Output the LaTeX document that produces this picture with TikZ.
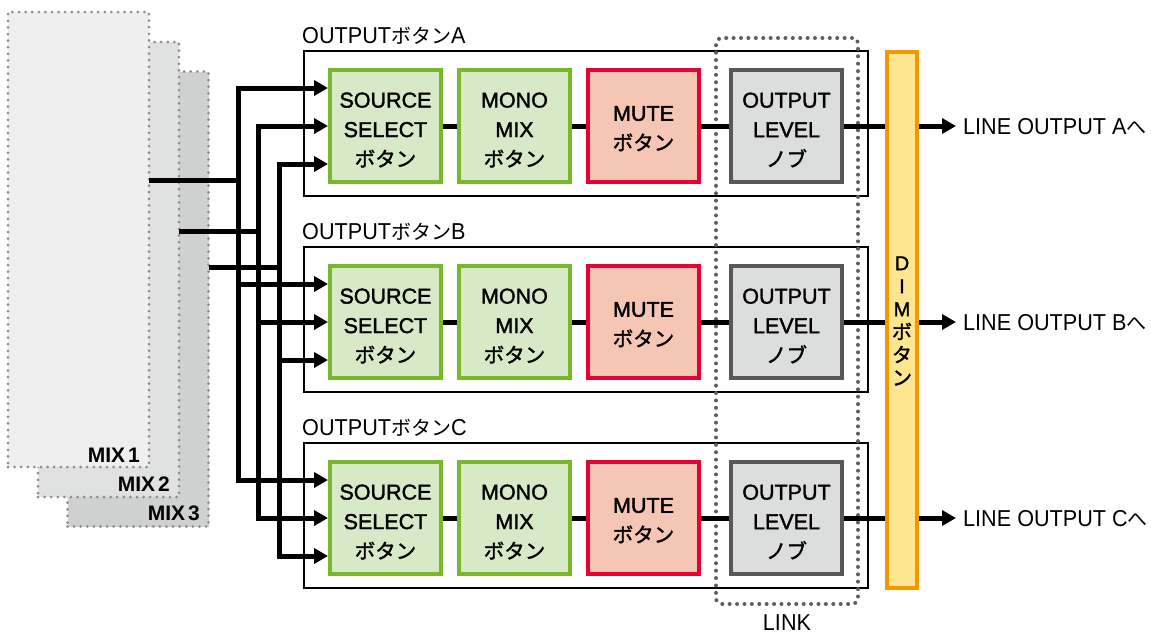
\documentclass[tikz,border=0pt]{standalone}
\usepackage{fontspec}
\setmainfont{Liberation Sans}
\newfontfamily\boxfont[FakeBold=1.6]{Liberation Sans}
\newfontfamily\lblfont[FakeStretch=0.94]{Liberation Sans}
\newfontfamily\jp{Noto Sans CJK JP}
\newfontfamily\jpb[FakeBold=1.6]{Noto Sans CJK JP}
\usetikzlibrary{arrows.meta,calc}
\definecolor{grnB}{RGB}{120,184,42}
\definecolor{grnF}{RGB}{216,233,199}
\definecolor{redB}{RGB}{230,0,51}
\definecolor{redF}{RGB}{246,198,180}
\definecolor{gryB}{RGB}{89,87,87}
\definecolor{gryF}{RGB}{220,221,221}
\definecolor{dimB}{RGB}{243,152,0}
\definecolor{dimF}{RGB}{254,230,145}
\definecolor{mixdot}{RGB}{140,140,140}
\definecolor{linkdot}{RGB}{95,95,95}
\definecolor{mixA}{RGB}{239,239,239}
\definecolor{mixB}{RGB}{224,225,225}
\definecolor{mixC}{RGB}{207,208,208}
\newcommand\jpk[1]{{\jpb\fontsize{20.5}{29.5}\selectfont #1}}
\newcommand\jpl[1]{{\jp\fontsize{20}{22}\selectfont #1}}
\newcommand\jpd[1]{{\jpb\fontsize{20}{23}\selectfont #1}}
\newcommand\topstrut{\rule{0pt}{23pt}}
\begin{document}
\begin{tikzpicture}[x=1pt,y=-1pt,
  mixpanel/.style={draw=mixdot, line width=3pt, dash pattern=on 0pt off 6.6pt, line cap=round, inner sep=0pt, outer sep=0pt, minimum width=141pt, minimum height=455pt},
  mixlabel/.style={anchor=base east, inner sep=0pt, font=\fontsize{21}{24}\selectfont\bfseries},
  blk/.style={line width=4pt, minimum width=111pt, minimum height=112pt, inner sep=0pt, align=center, font=\boxfont\fontsize{21.5}{29.5}\selectfont},
  srcbox/.style={blk, draw=grnB, fill=grnF},
  mutebox/.style={blk, draw=redB, fill=redF},
  lvlbox/.style={blk, draw=gryB, fill=gryF},
  grp/.style={draw=black, line width=2pt, inner sep=0pt, minimum width=564pt, minimum height=145pt},
  lbl/.style={anchor=base west, inner sep=0pt, font=\lblfont\fontsize{23}{26}\selectfont},
  wire/.style={draw=black, line width=5pt},
  arr/.style={-{Triangle[length=14pt,width=15pt]}},
  linkbox/.style={draw=linkdot, line width=4pt, dash pattern=on 0pt off 7.4pt, line cap=round, rounded corners=6pt, inner sep=0pt, minimum width=142pt, minimum height=566pt},
  dimbar/.style={draw=dimB, fill=dimF, line width=4pt, inner sep=0pt, minimum width=30pt, minimum height=536pt}
]
\useasboundingbox (0,0) rectangle (1151,633);

% MIX panels (back to front)
\node[mixpanel, fill=mixC] (mix3) at (138,299) {};
\node[mixpanel, fill=mixB] (mix2) at (108.5,269.5) {};
\node[mixpanel, fill=mixA] (mix1) at (78.5,239.5) {};
\node[mixlabel] (mixl1) at (140,462) {MIX\hspace{3pt}1};
\node[mixlabel] (mixl2) at (170,491) {MIX\hspace{3pt}2};
\node[mixlabel] (mixl3) at (200,520) {MIX\hspace{3pt}3};

% output groups
\foreach \g/\c in {A/126,B/322,C/518}{
  \node[grp] (grp\g) at (586,\c-2.5) {};
  \node[lbl] (lab\g) at (302,\c-83) {OUTPUT\jpl{ボタン}\g};
}

% LINK
\node[linkbox] (link) at (787,321) {};
\node[lbl, anchor=base] (linklbl) at (787,630) {LINK};

% DIM bar
\node[dimbar] (dim) at (902,320) {};
\node[align=center, inner sep=0pt, font=\boxfont\fontsize{20}{23}\selectfont] (dimtxt) at (902,321) {D\\I\\M\\\jpd{ボ}\\\jpd{タ}\\\jpd{ン}};

% blocks
\foreach \g/\c in {A/126,B/322,C/518}{
  \node[srcbox] (src\g) at (385.5,\c) {\topstrut SOURCE\\SELECT\\\jpk{ボタン}};
  \node[srcbox] (mono\g) at (514.5,\c) {\topstrut MONO\\MIX\\\jpk{ボタン}};
  \node[mutebox] (mute\g) at (643.5,\c) {\rule{0pt}{20pt}MUTE\\\jpk{ボタン}};
  \node[lvlbox] (lvl\g) at (786.5,\c) {\topstrut OUTPUT\\LEVEL\\\jpk{ノブ}};
  \coordinate (in\g1) at ([yshift=38pt]src\g.west);
  \coordinate (in\g2) at (src\g.west);
  \coordinate (in\g3) at ([yshift=-38pt]src\g.west);
  \node[lbl] (out\g) at (963,\c+8) {LINE OUTPUT \g\jpl{へ}};
  \draw[wire] (src\g) -- (mono\g);
  \draw[wire] (mono\g) -- (mute\g);
  \draw[wire] (mute\g) -- (lvl\g);
  \draw[wire] (lvl\g.east) -- (lvl\g.east -| dim.west);
  \draw[wire,arr] (lvl\g.east -| dim.east) -- ($(lvl\g.east -| out\g.west)+(-7,0)$);
}

% buses
\coordinate (j1) at (238,180);
\coordinate (j2) at (258,231);
\coordinate (j3) at (279,267);
\draw[wire] (mix1.east |- j1) -- (j1);
\draw[wire] (mix2.east |- j2) -- (j2);
\draw[wire] (mix3.east |- j3) -- (j3);
\foreach \g in {A,B,C}{
  \draw[wire,arr] (j1) |- (in\g1);
  \draw[wire,arr] (j2) |- (in\g2);
  \draw[wire,arr] (j3) |- (in\g3);
}
\end{tikzpicture}
\end{document}
